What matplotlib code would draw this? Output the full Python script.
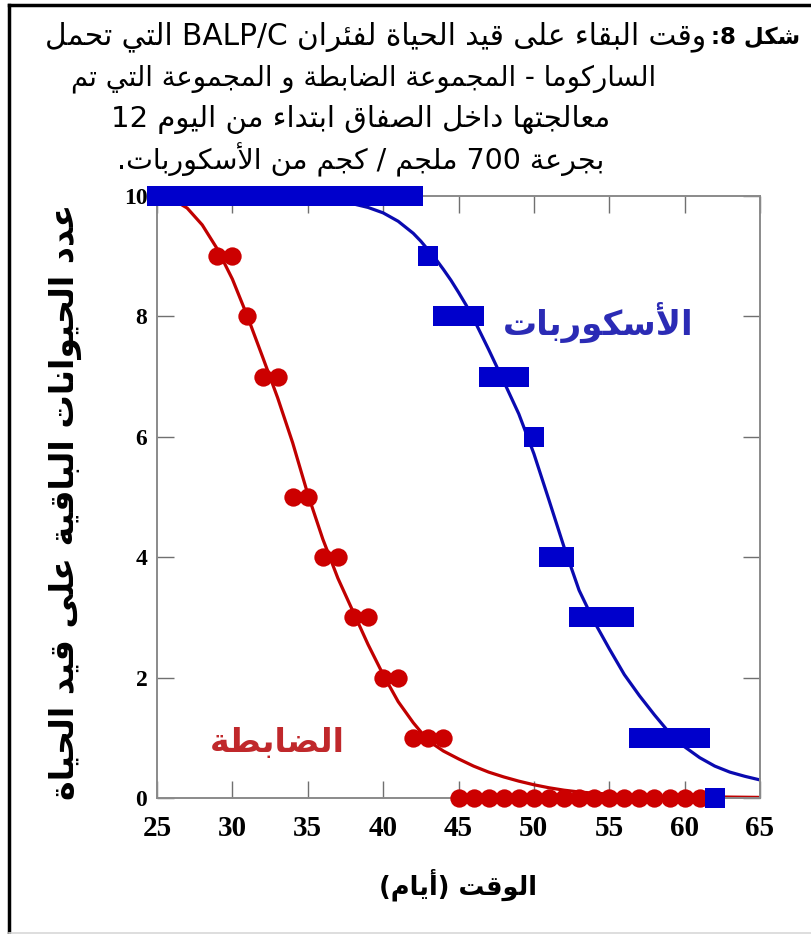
import matplotlib
matplotlib.use("Agg")
import matplotlib.pyplot as plt
from matplotlib.lines import Line2D

# ---------------------------------------------------------------------------
# Data: number of surviving animals over time
# ---------------------------------------------------------------------------
control_days = [29, 30, 31, 32, 33, 34, 35, 36, 37, 38, 39, 40, 41, 42, 43, 44,
                45, 46, 47, 48, 49, 50, 51, 52, 53, 54, 55, 56, 57, 58, 59, 60, 61]
control_alive = [9, 9, 8, 7, 7, 5, 5, 4, 4, 3, 3, 2, 2, 1, 1, 1,
                 0, 0, 0, 0, 0, 0, 0, 0, 0, 0, 0, 0, 0, 0, 0, 0, 0]

ascorbate_days = [25, 26, 27, 28, 29, 30, 31, 32, 33, 34, 35, 36, 37, 38, 39, 40, 41, 42,
                  43, 44, 45, 46, 47, 48, 49, 50, 51, 52, 53, 54, 55, 56,
                  57, 58, 59, 60, 61, 62]
ascorbate_alive = [10, 10, 10, 10, 10, 10, 10, 10, 10, 10, 10, 10, 10, 10, 10, 10, 10, 10,
                   9, 8, 8, 8, 7, 7, 7, 6, 4, 4, 3, 3, 3, 3,
                   1, 1, 1, 1, 1, 0]

# Fitted survival curves
control_fit_x = [25, 26, 27, 28, 29, 30, 31, 32, 33, 34, 35, 36, 37, 38, 39, 40, 41, 42,
                 43, 44, 45, 46, 47, 48, 49, 50, 51, 52, 53, 54, 56, 58, 61, 65]
control_fit_y = [10.0, 9.95, 9.8, 9.52, 9.12, 8.62, 8.0, 7.33, 6.65, 5.9, 5.05, 4.3,
                 3.65, 3.1, 2.55, 2.05, 1.6, 1.25, 0.95, 0.78, 0.65, 0.53, 0.43, 0.35,
                 0.28, 0.22, 0.17, 0.13, 0.10, 0.08, 0.05, 0.03, 0.02, 0.01]

ascorbate_fit_x = [25, 30, 34, 36, 38, 39, 40, 41, 42, 42.5, 43, 43.5, 44, 44.5, 45, 45.5,
                   46, 47, 48, 49, 50, 51, 52, 53, 54, 55, 56, 57, 58, 59, 60, 61, 62,
                   63, 64, 65]
ascorbate_fit_y = [10.0, 9.99, 9.97, 9.94, 9.87, 9.81, 9.72, 9.58, 9.38, 9.25, 9.1, 8.95,
                   8.78, 8.6, 8.4, 8.19, 7.96, 7.45, 6.92, 6.38, 5.72, 4.95, 4.17, 3.45,
                   2.93, 2.48, 2.05, 1.7, 1.38, 1.08, 0.85, 0.67, 0.53, 0.43, 0.36, 0.30]

x_ticks = [25, 30, 35, 40, 45, 50, 55, 60, 65]
y_ticks = [0, 2, 4, 6, 8, 10]

title_bold = "شكل 8:"
title_lines = [
    "وقت البقاء على قيد الحياة لفئران BALP/C التي تحمل",
    "الساركوما - المجموعة الضابطة و المجموعة التي تم",
    "معالجتها داخل الصفاق ابتداء من اليوم 12",
    "بجرعة 700 ملجم / كجم من الأسكوربات.",
]
y_label = "عدد الحيوانات الباقية على قيد الحياة"
x_label = "الوقت (أيام)"
control_name = "الضابطة"
ascorbate_name = "الأسكوربات"

# ---------------------------------------------------------------------------
# Minimal Arabic shaping + right-to-left ordering (matplotlib draws glyphs
# left to right without contextual forms)
# ---------------------------------------------------------------------------
DUAL = {'ئ': 0xFE89, 'ب': 0xFE8F, 'ت': 0xFE95, 'ث': 0xFE99, 'ج': 0xFE9D, 'ح': 0xFEA1,
        'خ': 0xFEA5, 'س': 0xFEB1, 'ش': 0xFEB5, 'ص': 0xFEB9, 'ض': 0xFEBD, 'ط': 0xFEC1,
        'ظ': 0xFEC5, 'ع': 0xFEC9, 'غ': 0xFECD, 'ف': 0xFED1, 'ق': 0xFED5, 'ك': 0xFED9,
        'ل': 0xFEDD, 'م': 0xFEE1, 'ن': 0xFEE5, 'ه': 0xFEE9, 'ي': 0xFEF1}
RIGHT = {'آ': 0xFE81, 'أ': 0xFE83, 'ؤ': 0xFE85, 'إ': 0xFE87, 'ا': 0xFE8D, 'ة': 0xFE93,
         'د': 0xFEA9, 'ذ': 0xFEAB, 'ر': 0xFEAD, 'ز': 0xFEAF, 'و': 0xFEED, 'ى': 0xFEEF}
LAM_ALEF = {'آ': 0xFEF5, 'أ': 0xFEF7, 'إ': 0xFEF9, 'ا': 0xFEFB}
MIRROR = {'(': ')', ')': '(', '[': ']', ']': '['}


def shape_arabic(s):
    out = []
    prev_joins = False
    i = 0
    while i < len(s):
        c = s[i]
        nxt = s[i + 1] if i + 1 < len(s) else ''
        if c == 'ل' and nxt in LAM_ALEF:
            base = LAM_ALEF[nxt]
            out.append(chr(base + 1 if prev_joins else base))
            prev_joins = False
            i += 2
            continue
        if c in DUAL:
            b = DUAL[c]
            nxt_joins = nxt in DUAL or nxt in RIGHT
            if prev_joins and nxt_joins:
                g = b + 3
            elif prev_joins:
                g = b + 1
            elif nxt_joins:
                g = b + 2
            else:
                g = b
            out.append(chr(g))
            prev_joins = True
        elif c in RIGHT:
            b = RIGHT[c]
            out.append(chr(b + 1 if prev_joins else b))
            prev_joins = False
        else:
            out.append(c)
            prev_joins = False
        i += 1
    return ''.join(out)


def rtl(s):
    shaped = shape_arabic(s)
    kinds = []
    for ch in shaped:
        if ch.isascii() and ch.isalnum():
            kinds.append('L')
        elif '\u0600' <= ch <= '\u06FF' or '\uFB50' <= ch <= '\uFEFF':
            kinds.append('R')
        else:
            kinds.append('N')
    # neutrals take the direction of strong neighbours, defaulting to RTL
    n = len(kinds)
    resolved = kinds[:]
    for i in range(n):
        if kinds[i] == 'N':
            j = i - 1
            while j >= 0 and kinds[j] == 'N':
                j -= 1
            k = i + 1
            while k < n and kinds[k] == 'N':
                k += 1
            left = kinds[j] if j >= 0 else 'R'
            right = kinds[k] if k < n else 'R'
            resolved[i] = 'L' if (left == 'L' and right == 'L') else 'R'
    runs = []
    for ch, d in zip(shaped, resolved):
        if runs and runs[-1][0] == d:
            runs[-1][1].append(ch)
        else:
            runs.append([d, [ch]])
    pieces = []
    for d, chars in reversed(runs):
        if d == 'R':
            pieces.append(''.join(MIRROR.get(c, c) for c in reversed(chars)))
        else:
            pieces.append(''.join(chars))
    return ''.join(pieces)


# ---------------------------------------------------------------------------
# Figure
# ---------------------------------------------------------------------------
W, H = 811, 934
fig = plt.figure(figsize=(W / 100, H / 100), dpi=100)
fig.patch.set_facecolor('white')

ax = fig.add_axes([157 / W, 1 - 798 / H, 603 / W, 602 / H])

RED = '#CC0000'
RED_LINE = '#C00000'
BLUE = '#0000CC'
BLUE_LINE = '#0A0AB0'

ax.plot(control_fit_x, control_fit_y, color=RED_LINE, lw=2.3, zorder=2,
        clip_on=False, solid_capstyle='butt')
ax.plot(ascorbate_fit_x, ascorbate_fit_y, color=BLUE_LINE, lw=2.3, zorder=2,
        clip_on=False, solid_capstyle='butt')
ax.plot(control_days, control_alive, 'o', color=RED, ms=13.2, mew=0,
        zorder=3, clip_on=False)
ax.plot(ascorbate_days, ascorbate_alive, 's', color=BLUE, ms=14, mew=0,
        zorder=4, clip_on=False)

ax.set_xlim(25, 65)
ax.set_ylim(0, 10)
ax.set_xticks(x_ticks)
ax.set_yticks(y_ticks)
for sp in ax.spines.values():
    sp.set_color('#8a8a8a')
    sp.set_linewidth(1.4)
ax.tick_params(direction='in', length=12, width=1.0, color='#707070',
               top=True, right=True)
ax.tick_params(axis='x', pad=12)
ax.tick_params(axis='y', pad=7)
for lab in ax.get_xticklabels():
    lab.set_fontfamily('Liberation Serif')
    lab.set_fontweight('bold')
    lab.set_fontsize(21)
for lab in ax.get_yticklabels():
    lab.set_fontfamily('Liberation Serif')
    lab.set_fontweight('bold')
    lab.set_fontsize(17)

# in-plot group names
ax.text(54.25, 7.9, rtl(ascorbate_name), color='#2B2BB5', fontsize=24.5,
        fontweight='bold', family='DejaVu Sans', ha='center', va='center')
ax.text(33.0, 0.93, rtl(control_name), color='#C0282B', fontsize=24,
        fontweight='bold', family='DejaVu Sans', ha='center', va='center')

# axis titles
fig.text(65 / W, 1 - 502 / H, rtl(y_label), rotation=90, fontsize=24,
         fontweight='bold', family='DejaVu Sans', ha='center', va='center')
fig.text(458 / W, 1 - 885 / H, rtl(x_label), fontsize=18.5,
         fontweight='bold', family='DejaVu Sans', ha='center', va='center')

# caption
fig.text(800 / W, 1 - 37 / H, rtl(title_bold), fontsize=16.5, fontweight='bold',
         family='DejaVu Sans', ha='right', va='center')
line_right = [706, 656, 610, 604]
line_y = [37, 79, 120, 160]
line_size = [21.3, 19.8, 21.0, 20.5]
for txt, xr, yc, fs in zip(title_lines, line_right, line_y, line_size):
    fig.text(xr / W, 1 - yc / H, rtl(txt), fontsize=fs, family='DejaVu Sans',
             ha='right', va='center')

# outer frame
fig.add_artist(Line2D([9 / W, 9 / W], [0, 1 - 5 / H], transform=fig.transFigure,
                      color='black', lw=2.5))
fig.add_artist(Line2D([9 / W, 1], [1 - 5 / H, 1 - 5 / H], transform=fig.transFigure,
                      color='black', lw=2.5))
fig.add_artist(Line2D([9 / W, 1], [1.5 / H, 1.5 / H], transform=fig.transFigure,
                      color='#d8d8d8', lw=1.2))

fig.savefig('out.png', dpi=100)
